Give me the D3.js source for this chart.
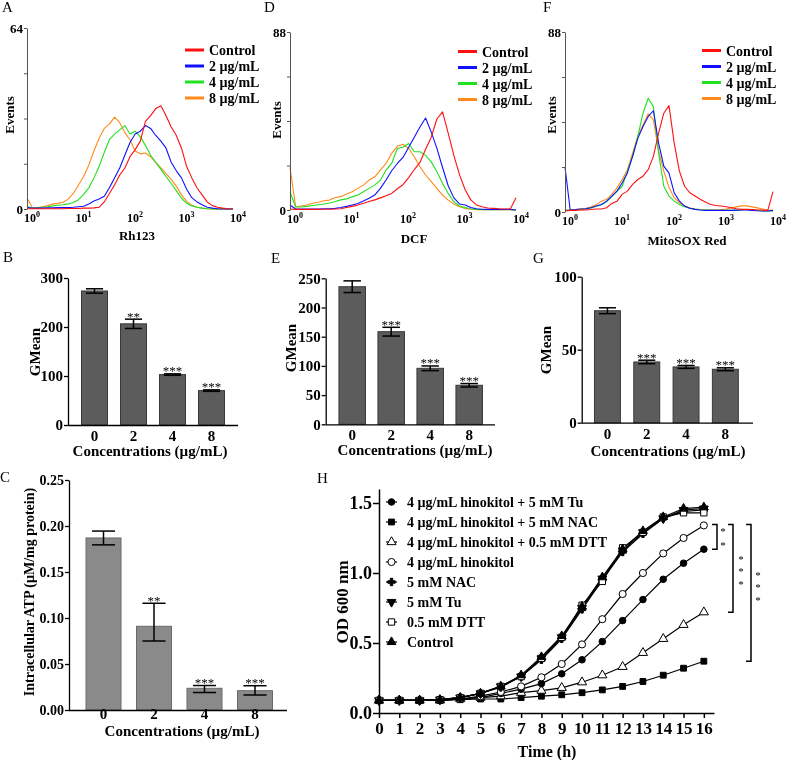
<!DOCTYPE html>
<html><head><meta charset="utf-8">
<script src="https://cdn.jsdelivr.net/npm/d3@7"></script>
<style>body{margin:0;background:#fff}svg{display:block;will-change:transform}</style>
</head><body><svg id="chart" width="786" height="760"></svg>
<script>
// ---------------- DATA ----------------
const binLog10 = [0,0.1,0.2,0.3,0.4,0.5,0.6,0.7,0.8,0.9,1,1.1,1.2,1.3,1.4,1.5,1.6,1.7,1.8,1.9,2,2.1,2.2,2.3,2.4,2.5,2.6,2.7,2.8,2.9,3,3.1,3.2,3.3,3.4,3.5,3.6,3.7,3.8,3.9,4];
const histLabels = ["Control","2 µg/mL","4 µg/mL","8 µg/mL"];
const histExp = [0,1,2,3,4];
const eventTicksA = [0,16,32,48,64];
const eventTicksDF = [0,22,44,66,88];

// Panel A (Rh123)
const rhCtrl = [0.1,0.1,0.1,0.1,0.1,0.1,0.1,0.1,0.2,0.2,0.2,0.3,0.3,0.4,0.6,2.5,5.5,8.5,12,14.5,18.5,21,24,31,33,35.5,36.5,33,29,26,21.5,15,11,7.5,5,2.5,1.2,0.6,0.3,0.1,0];
const rh2 = [0.5,0.3,0.3,0.3,0.4,0.4,0.5,0.5,0.5,0.6,0.8,1,1.8,2.8,3.5,4.5,7.5,11,14.5,19,23.5,26.5,27.5,29.5,28.5,26,24,21.5,16.5,13.5,11,7,4,2.5,1.5,0.6,0.3,0.1,0,0,0];
const rh4 = [1,0.3,0.4,0.6,0.8,1.1,1.3,1.5,1.8,2.3,3.3,5.2,7.5,11,15,20,24.5,26.5,28,29.5,26.5,27.5,25.5,22.5,19,16.5,14,11.5,9,6.5,3.8,2,1.1,0.6,0.3,0.1,0,0,0,0,0];
const rh8 = [4,0.5,0.5,0.8,1.2,1.8,2,2.4,3.5,5.5,8.5,11.5,15.5,20.5,25,28.5,30,32.5,30.5,27,24.5,20.5,19.5,19.8,18.5,16.5,14.5,12.5,10.5,8,5,2.8,1.3,0.6,0.3,0.1,0,0,0,0,0];
// Panel D (DCF)
const dcfCtrl = [0.5,0.3,0.3,0.3,0.3,0.3,0.4,0.4,0.5,0.6,1.2,1.8,2.5,3.3,4.2,5,6,7,8.2,10.5,12.5,16,20,23.5,30,36,45,48.5,38,27,17.5,10,5,2.5,1.6,1,0.8,0.6,0.5,0.5,6];
const dcf2 = [2.5,0.5,0.5,0.5,0.5,0.5,0.6,0.6,0.8,1.2,1.8,2.5,3.2,4.4,5.8,7.4,10.7,14.8,19.4,23,26,31,36,41,45.5,38.5,30.5,21,12,6,3,2.5,1.2,0.6,0.4,0.3,0.3,0.3,0.3,0.3,0];
const dcf4 = [9,1.5,1.5,1.8,2.2,2.6,3,3.5,4.2,5,5.5,6.5,7.4,9,10.7,12.3,14.8,19.7,23,30.4,31,32.9,28.8,28.8,27,23.8,18.9,13.2,8.2,4.1,2,1.2,0.6,0.3,0.2,0.2,0.2,0.2,0.2,0.2,0];
const dcf8 = [21,1.6,2,2.5,3.3,3.8,4.6,4.9,6.2,6.6,7.9,9,10.7,12.3,14.8,16.4,19.7,23,28,31.5,32.5,30.4,26.3,21.4,17.3,14,10.7,7.4,4.9,3,1.6,0.8,0.4,0.2,0.1,0.1,0.1,0.1,0.1,0.1,0.1];
// Panel F (MitoSOX Red)
const mitoCtrl = [0.5,0.8,0.8,1,1,1.2,1.5,1.5,2.1,4.2,5.3,8.6,10.2,13.5,15.9,17.5,20.7,27.2,38.6,48.3,52,33.7,20,12.6,9.4,7.8,6.2,4.9,3.7,3.2,2.9,2.6,2.1,1.6,1.3,1.3,1.2,1,1,0.8,10];
const mito2 = [22,1,1.2,1.5,1.6,2.1,2.9,3.7,5.3,7.8,10.2,14.3,19.1,27.2,36,41.8,46.7,49.5,33.7,22.4,19,9.4,5.3,2.9,1.8,1.3,1,0.8,0.8,0.8,0.8,0.8,0.8,0.9,1,1,0.8,0.6,0.5,0.5,0.8];
const mito4 = [1,1,1,1.2,1.5,2,2.8,3.5,5,7.5,10.2,12.6,20,27.2,37,48.3,55.6,51.5,28.8,12.6,7.8,5.3,3.7,2.6,1.8,1.4,1.1,1,0.9,0.8,0.8,0.8,0.8,0.8,1,1.2,1,0.8,0.5,0.5,0.5];
const mito8 = [1,1,1.2,1.5,1.8,2.5,3.5,5.3,6.2,8.6,11.8,15.9,20.7,28.8,37,42.6,48,45,30,20,12,7,4.5,3,2,1.5,1.2,1,1,1,1.2,1.5,2,2.5,3,3,2.5,2,1.5,1,0.8];

// Bar panels
const concCats = ["0","2","4","8"];
const rhMean = [273.5,206.5,102.9,70.2];
const rhErr = [4.5,9.5,1.5,1.5];
const rhSig = ["","**","***","***"];
const rhTicks = [0,100,200,300];
const dcfMean = [235.6,158.6,95.9,66.8];
const dcfErr = [10,7.5,4,3];
const dcfSig = ["","***","***","***"];
const dcfTicks = [0,50,100,150,200,250];
const mitoMean = [76.7,41.6,38.2,36.6];
const mitoErr = [2,1.2,1,1];
const mitoSig = ["","***","***","***"];
const mitoTicks = [0,50,100];
const atpMean = [0.187,0.091,0.0236,0.021];
const atpErrUp = [0.0075,0.025,0.003,0.0054];
const atpErrDown = [0.0075,0.016,0.0046,0.0047];
const atpSig = ["","**","***","***"];
const atpTicks = [0,0.05,0.10,0.15,0.20,0.25];

// Panel H growth curves
const timeH = [0,1,2,3,4,5,6,7,8,9,10,11,12,13,14,15,16];
const odTicks = [0,0.5,1.0,1.5];
const odHinTu  = [0.09,0.09,0.09,0.09,0.10,0.11,0.14,0.17,0.21,0.28,0.38,0.51,0.66,0.81,0.955,1.07,1.17];
const odHinNAC = [0.09,0.09,0.09,0.09,0.095,0.10,0.10,0.11,0.12,0.13,0.145,0.165,0.19,0.225,0.27,0.32,0.37];
const odHinDTT = [0.09,0.09,0.09,0.09,0.10,0.11,0.12,0.145,0.16,0.18,0.22,0.27,0.33,0.43,0.53,0.63,0.72];
const odHin    = [0.09,0.09,0.09,0.09,0.10,0.12,0.15,0.19,0.255,0.35,0.49,0.67,0.85,1.00,1.14,1.25,1.34];
const odNAC    = [0.09,0.09,0.09,0.095,0.11,0.14,0.185,0.26,0.38,0.53,0.74,0.95,1.15,1.28,1.39,1.44,1.45];
const odTu     = [0.09,0.09,0.09,0.095,0.11,0.14,0.19,0.26,0.39,0.54,0.75,0.96,1.16,1.29,1.39,1.45,1.46];
const odDTT    = [0.09,0.09,0.09,0.095,0.11,0.14,0.19,0.26,0.39,0.54,0.77,0.94,1.18,1.29,1.40,1.43,1.43];
const odCtrl   = [0.09,0.09,0.09,0.095,0.11,0.14,0.19,0.27,0.40,0.55,0.76,0.97,1.17,1.30,1.40,1.46,1.47];
const growthLabels = ["4 µg/mL hinokitol + 5 mM Tu","4 µg/mL hinokitol + 5 mM NAC","4 µg/mL hinokitol + 0.5 mM DTT","4 µg/mL hinokitol","5 mM NAC","5 mM Tu","0.5 mM DTT","Control"];

// ---------------- DRAWING ----------------
const svg = d3.select("#chart");
const SERIF = '"Liberation Serif","Times New Roman",Times,serif';
const histColors = ["#ff1010","#1010ff","#20e020","#ff8a1a"];

function addText(g, x, y, s, o = {}) {
  const t = g.append("text").attr("x", x).attr("y", y)
    .attr("font-family", SERIF).attr("font-size", o.size || 14)
    .attr("font-weight", o.bold === false ? "normal" : "bold")
    .attr("text-anchor", o.anchor || "start").attr("fill", "#000").text(s);
  if (o.rot) t.attr("transform", `rotate(-90 ${x} ${y})`);
  return t;
}
function styleAxis(ax, size) {
  ax.attr("font-family", SERIF).attr("font-size", size).attr("font-weight", "bold");
  ax.selectAll("text").attr("fill", "#000");
  ax.selectAll("line,path").attr("stroke", "#000");
}

function histPanel(p) {
  const g = svg.append("g");
  const x = d3.scaleLog().domain([1, 1e4]).range([p.x0, p.x1]);
  const y = d3.scaleLinear().domain([0, p.ticks[p.ticks.length - 1]]).range([p.yb, p.yt]);
  const line = d3.line().x((d, i) => x(Math.pow(10, binLog10[i]))).y(d => y(d));
  [3, 2, 1, 0].forEach(k => {
    g.append("path").attr("d", line(p.series[k])).attr("fill", "none")
      .attr("stroke", histColors[k]).attr("stroke-width", 1.1).attr("stroke-linejoin", "round");
  });
  const ymax = p.ticks[p.ticks.length - 1];
  const ax = g.append("g").attr("transform", `translate(${p.x0},0)`)
    .call(d3.axisLeft(y).tickValues(p.ticks).tickSize(3).tickPadding(1).tickSizeOuter(0)
      .tickFormat(d => (d === 0 || d === ymax) ? String(d) : ""));
  styleAxis(ax, 13);
  ax.select(".domain").attr("stroke", "#555");
  ax.selectAll(".tick line").attr("stroke", "#555");
  histExp.forEach(e => {
    const t = g.append("text").attr("x", x(Math.pow(10, e)) - 3).attr("y", p.yb + 13)
      .attr("font-family", SERIF).attr("font-size", 12).attr("font-weight", "bold");
    t.append("tspan").text("10");
    t.append("tspan").attr("dy", -5).attr("font-size", 8).text(e);
  });
  addText(g, p.titleX, p.titleY, p.title, { size: 13, anchor: "middle" });
  addText(g, p.evX, p.evY, "Events", { size: 13, anchor: "middle", rot: true });
  histLabels.forEach((lab, k) => {
    const yy = p.legY + k * 16;
    g.append("line").attr("x1", p.legX).attr("x2", p.legX + 19).attr("y1", yy).attr("y2", yy)
      .attr("stroke", histColors[k]).attr("stroke-width", 3);
    addText(g, p.legX + 24, yy + 5, lab, { size: 14 });
  });
  addText(g, p.letX, p.letY, p.letter, { size: 15, bold: false });
}

function barPanel(p) {
  const g = svg.append("g");
  const x = d3.scaleBand().domain(concCats).range([p.r0, p.r1]).paddingInner(p.pad).paddingOuter(p.pad / 2);
  const y = d3.scaleLinear().domain([0, p.ticks[p.ticks.length - 1]]).range([p.yb, p.yt]);
  const bw = x.bandwidth();
  g.selectAll("rect").data(p.mean).join("rect")
    .attr("x", (d, i) => x(concCats[i])).attr("y", d => y(d))
    .attr("width", bw).attr("height", d => p.yb - y(d))
    .attr("fill", p.fill).attr("stroke", p.stroke).attr("stroke-width", 1);
  p.mean.forEach((m, i) => {
    const cx = x(concCats[i]) + bw / 2;
    const hi = m + p.errUp[i], lo = m - p.errDn[i];
    const cw = bw * 0.33;
    g.append("line").attr("x1", cx).attr("x2", cx).attr("y1", y(lo)).attr("y2", y(hi)).attr("stroke", "#000").attr("stroke-width", 1.5);
    [hi, lo].forEach(v => g.append("line").attr("x1", cx - cw).attr("x2", cx + cw).attr("y1", y(v)).attr("y2", y(v)).attr("stroke", "#000").attr("stroke-width", 1.5));
    if (p.sig[i]) addText(g, cx, y(hi) + 1.5, p.sig[i], { size: 13, bold: false, anchor: "middle" });
    addText(g, cx, p.lblY, concCats[i], { size: 15, anchor: "middle" });
  });
  const ax = g.append("g").attr("transform", `translate(${p.ax},0)`)
    .call(d3.axisLeft(y).tickValues(p.ticks).tickSize(4).tickPadding(1).tickSizeOuter(0).tickFormat(p.fmt));
  styleAxis(ax, p.tickFont);
  ax.select(".domain").attr("stroke-width", 1.3);
  ax.selectAll(".tick line").attr("stroke-width", 1.3);
  g.append("line").attr("x1", p.ax).attr("x2", p.axEnd).attr("y1", p.yb + 0.5).attr("y2", p.yb + 0.5).attr("stroke", "#000").attr("stroke-width", 1.3);
  addText(g, p.titleX, p.titleY, "Concentrations (µg/mL)", { size: 15, anchor: "middle" });
  addText(g, p.ytX, p.ytY, p.ytitle, { size: p.ytSize, anchor: "middle", rot: true });
  addText(g, p.letX, p.letY, p.letter, { size: 15, bold: false });
}

// Histograms
histPanel({ x0: 27, x1: 233, yb: 209, yt: 28, ticks: eventTicksA, series: [rhCtrl, rh2, rh4, rh8],
  title: "Rh123", titleX: 137, titleY: 240, evX: 14, evY: 115, legX: 185, legY: 50, letter: "A", letX: 2, letY: 12 });
histPanel({ x0: 290, x1: 516, yb: 210, yt: 32, ticks: eventTicksDF, series: [dcfCtrl, dcf2, dcf4, dcf8],
  title: "DCF", titleX: 414, titleY: 243, evX: 281, evY: 120, legX: 458, legY: 51.5, letter: "D", letX: 264, letY: 12 });
histPanel({ x0: 565, x1: 773, yb: 212, yt: 32, ticks: eventTicksDF, series: [mitoCtrl, mito2, mito4, mito8],
  title: "MitoSOX Red", titleX: 687, titleY: 245, evX: 556, evY: 115, legX: 702, legY: 50.5, letter: "F", letX: 543, letY: 12 });

// Bar charts
barPanel({ r0: 75, r1: 231, pad: 0.333, yb: 425, yt: 278, ticks: rhTicks, mean: rhMean, errUp: rhErr, errDn: rhErr, sig: rhSig,
  fill: "#5c5c5c", stroke: "#3a3a3a", ax: 68, axEnd: 238, fmt: d3.format("d"), tickFont: 15, lblY: 441, titleX: 150, titleY: 456,
  ytitle: "GMean", ytX: 40, ytY: 352, ytSize: 15, letter: "B", letX: 3, letY: 262 });
barPanel({ r0: 332.7, r1: 488.7, pad: 0.32, yb: 424.3, yt: 278.3, ticks: dcfTicks, mean: dcfMean, errUp: dcfErr, errDn: dcfErr, sig: dcfSig,
  fill: "#5c5c5c", stroke: "#3a3a3a", ax: 325.7, axEnd: 495, fmt: d3.format("d"), tickFont: 15, lblY: 440, titleX: 415, titleY: 455,
  ytitle: "GMean", ytX: 296, ytY: 348, ytSize: 15, letter: "E", letX: 271, letY: 263 });
barPanel({ r0: 587.8, r1: 745, pad: 0.34, yb: 422.7, yt: 276.7, ticks: mitoTicks, mean: mitoMean, errUp: mitoErr, errDn: mitoErr, sig: mitoSig,
  fill: "#5c5c5c", stroke: "#3a3a3a", ax: 581.7, axEnd: 753, fmt: d3.format("d"), tickFont: 15, lblY: 438.5, titleX: 668, titleY: 456,
  ytitle: "GMean", ytX: 551, ytY: 350, ytSize: 15, letter: "G", letX: 533, letY: 263 });
barPanel({ r0: 78.25, r1: 280.25, pad: 0.307, yb: 710, yt: 480, ticks: atpTicks, mean: atpMean, errUp: atpErrUp, errDn: atpErrDown, sig: atpSig,
  fill: "#8a8a8a", stroke: "#6a6a6a", ax: 69, axEnd: 287, fmt: d3.format(".2f"), tickFont: 14, lblY: 719, titleX: 182, titleY: 736,
  ytitle: "Intracellular ATP (µM/mg protein)", ytX: 34, ytY: 592, ytSize: 14, letter: "C", letX: 0, letY: 482 });

// Panel H
(function () {
  const g = svg.append("g");
  const x = d3.scaleLinear().domain([0, 16.5]).range([379, 714]);
  const y = d3.scaleLinear().domain([0, 1.6]).range([713, 489]);
  const series = [
    { v: odHinTu, m: "circleF" }, { v: odHinNAC, m: "squareF" }, { v: odHinDTT, m: "triUpO" }, { v: odHin, m: "circleO" },
    { v: odNAC, m: "plus" }, { v: odTu, m: "triDownF" }, { v: odDTT, m: "squareO" }, { v: odCtrl, m: "triUpF" }];
  function marker(sel, type, cx, cy) {
    const cfg = {
      circleF: [d3.symbolCircle, 34, true, 0], squareF: [d3.symbolSquare, 34, true, 0], triUpO: [d3.symbolTriangle, 36, false, 0],
      circleO: [d3.symbolCircle, 40, false, 0], plus: [d3.symbolCross, 30, true, 0], triDownF: [d3.symbolTriangle, 34, true, 180],
      squareO: [d3.symbolSquare, 40, false, 0], triUpF: [d3.symbolTriangle, 34, true, 0] }[type];
    sel.append("path").attr("d", d3.symbol().type(cfg[0]).size(cfg[1])())
      .attr("transform", `translate(${cx},${cy}) rotate(${cfg[3]})`)
      .attr("fill", cfg[2] ? "#000" : "#fff").attr("stroke", "#000").attr("stroke-width", 1);
  }
  const line = d3.line().x((d, i) => x(timeH[i])).y(d => y(d));
  [1, 2, 0, 3, 4, 5, 6, 7].forEach(k => {
    g.append("path").attr("d", line(series[k].v)).attr("fill", "none").attr("stroke", "#000").attr("stroke-width", 1.2);
  });
  [1, 2, 0, 3, 4, 5, 6, 7].forEach(k => {
    series[k].v.forEach((d, i) => marker(g, series[k].m, x(timeH[i]), y(d)));
  });
  const ay = g.append("g").attr("transform", "translate(379,0)")
    .call(d3.axisLeft(y).tickValues(odTicks).tickSize(6).tickPadding(1).tickSizeOuter(0).tickFormat(d3.format(".1f")));
  styleAxis(ay, 18);
  ay.select(".domain").attr("stroke-width", 1.5);
  ay.selectAll(".tick line").attr("stroke-width", 1.5);
  const axx = g.append("g").attr("transform", "translate(0,713)")
    .call(d3.axisBottom(x).tickValues(timeH).tickSize(5).tickSizeOuter(0).tickFormat(d3.format("d")));
  styleAxis(axx, 17);
  axx.select(".domain").attr("stroke-width", 1.5);
  axx.selectAll(".tick line").attr("stroke-width", 1.5);
  axx.selectAll(".tick text").attr("dy", "0.75em").attr("y", 8);
  addText(g, 547, 757, "Time (h)", { size: 16, anchor: "middle" });
  addText(g, 348, 602, "OD 600 nm", { size: 17, anchor: "middle", rot: true });
  addText(g, 317, 483, "H", { size: 15, bold: false });
  growthLabels.forEach((lab, k) => {
    const yy = 502 + k * 20;
    g.append("line").attr("x1", 386).attr("x2", 397).attr("y1", yy).attr("y2", yy).attr("stroke", "#000").attr("stroke-width", 1.2);
    marker(g, series[k].m, 391.5, yy);
    addText(g, 407, yy + 5, lab, { size: 14 });
  });
  const top = y(odHin[16]);
  const brackets = [
    { xb: 717, bottom: y(odHinTu[16]), n: 2, sx: 723 },
    { xb: 733, bottom: y(odHinDTT[16]), n: 3, sx: 741 },
    { xb: 751, bottom: y(odHinNAC[16]), n: 3, sx: 758 }];
  brackets.forEach((b, j) => {
    g.append("path").attr("d", `M${b.xb - 5},${top - 1}H${b.xb}V${b.bottom}H${b.xb - 5}`)
      .attr("fill", "none").attr("stroke", "#000").attr("stroke-width", 1.5);
    const mid = j === 0 ? (top + b.bottom) / 2 : (j === 1 ? top + 45 : top + 61);
    const gap = j === 0 ? 14 : 12.5;
    for (let s = 0; s < b.n; s++) {
      const cy = mid + (s - (b.n - 1) / 2) * gap;
      addText(g, b.sx, cy + 5, "*", { size: 11, bold: false, anchor: "middle" });
    }
  });
})();
</script>
</body></html>
